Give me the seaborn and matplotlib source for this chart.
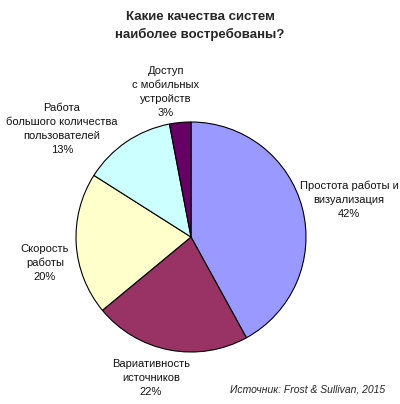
import matplotlib
matplotlib.use("Agg")
import matplotlib.pyplot as plt
import seaborn as sns

categories = ["Простота работы и\nвизуализация", "Вариативность\nисточников", "Скорость\nработы",
              "Работа\nбольшого количества\nпользователей", "Доступ\nс мобильных\nустройств"]
values = [42, 22, 20, 13, 3]
colors = ["#9999FF", "#993366", "#FFFFCC", "#CCFFFF", "#660066"]

sns.set_theme(style="white")
plt.rcParams['font.family'] = ['Liberation Sans', 'DejaVu Sans']

W, H = 400, 404
fig = plt.figure(figsize=(4.0, 4.04), dpi=100)
fig.patch.set_facecolor("white")
cx, cy, r = 191, 237, 115
ax = fig.add_axes([(cx - r) / W, (H - cy - r) / H, 2 * r / W, 2 * r / H])
ax.pie(values, colors=colors, startangle=90, counterclock=False,
       wedgeprops=dict(edgecolor="black", linewidth=0.8))
ax.set_xlim(-1, 1)
ax.set_ylim(-1, 1)
ax.set_aspect("equal")
ax.axis("off")

label_pos = [(349, 200), (151, 378), (45, 263), (62, 129), (166, 92)]
for cat, v, (px, py) in zip(categories, values, label_pos):
    fig.text(px / W, 1 - py / H, f"{cat}\n{v}%", ha="center", va="center",
             fontsize=8, linespacing=1.5, color="#111111")

fig.text(200 / W, 1 - 26 / H, "Какие качества систем\nнаиболее востребованы?",
         ha="center", va="center", fontsize=9.5, fontweight="bold", linespacing=1.4)
fig.text(308 / W, 1 - 389 / H, "Источник: Frost & Sullivan, 2015",
         ha="center", va="center", fontsize=7.5, style="italic")

fig.savefig("out.png", dpi=100)
